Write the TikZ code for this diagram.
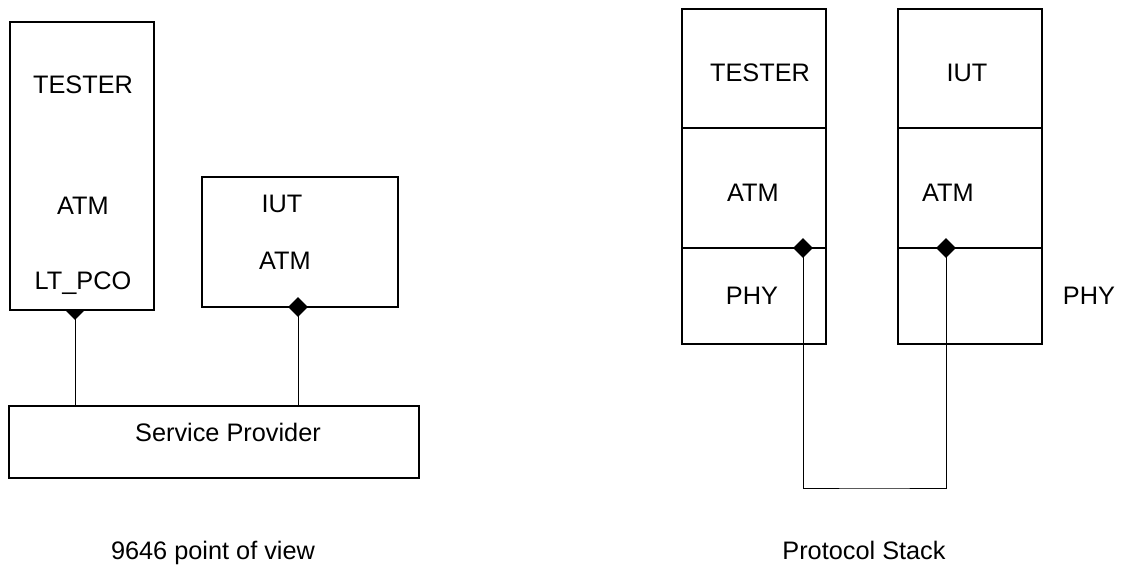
\documentclass[tikz,border=0pt]{standalone}
\usepackage{fontspec}
\setmainfont{Liberation Sans}
\usetikzlibrary{shapes.geometric}

\begin{document}
\begin{tikzpicture}
    % Styles
    \tikzstyle{block} = [rectangle, draw, line width=1.4pt, fill=white, inner sep=0pt]
    \tikzstyle{layerbox} = [rectangle, draw, line width=1.4pt, fill=white, minimum width=3.6cm, inner sep=0pt]
    \tikzstyle{txt} = [anchor=base, font=\fontsize{18}{22}\selectfont, inner sep=0pt]
    \tikzstyle{port} = [diamond, fill=black, minimum width=0.5cm, minimum height=0.5cm, inner sep=0pt]
    \tikzstyle{wire} = [line width=0.7pt]

    \useasboundingbox (0,0) rectangle (28.05,14.175);

    % Left view - explicit coordinates
    \node[port] (tport) at (1.875, 6.425) {};
    \node[block, minimum width=3.6cm, minimum height=7.2cm] (tester) at (2.05, 10.025) {};
    \node[txt] (tname) at (2.075, 11.825) {TESTER};
    \node[txt] (tatm) at (2.075, 8.8) {ATM};
    \node[txt] (tpco) at (2.075, 6.925) {LT\_PCO};

    \node[block, minimum width=4.9cm, minimum height=3.25cm] (iut) at (7.5, 8.125) {};
    \node[txt] (iname) at (7.05, 8.85) {IUT};
    \node[txt] (iatm) at (7.125, 7.425) {ATM};
    \node[port] (iport) at (7.45, 6.5) {};

    \node[block, minimum width=10.25cm, minimum height=1.8cm] (sp) at (5.35, 3.125) {};
    \node[txt] (spname) at (5.7, 3.125) {Service Provider};
    \node[txt] (view) at (5.325, 0.175) {9646 point of view};

    % Wires to the service provider
    \draw[wire] (tport.center) -- (tport.center |- sp.north);
    \draw[wire] (iport.center) -- (iport.center |- sp.north);

    % Protocol stacks
    \node[layerbox, minimum height=2.975cm] (ltop) at (18.85, 12.4625) {};
    \node[layerbox, minimum height=3cm] (lmid) at (18.85, 9.475) {};
    \node[layerbox, minimum height=2.4cm] (lphy) at (18.85, 6.775) {};
    \node[layerbox, minimum height=2.975cm] (rtop) at (24.25, 12.4625) {};
    \node[layerbox, minimum height=3cm] (rmid) at (24.25, 9.475) {};
    \node[layerbox, minimum height=2.4cm] (rphy) at (24.25, 6.775) {};

    \node[txt] (ltname) at (19.0, 12.125) {TESTER};
    \node[txt] (latm) at (18.825, 9.125) {ATM};
    \node[txt] (lphyname) at (18.8, 6.55) {PHY};
    \node[txt] (rtname) at (24.175, 12.125) {IUT};
    \node[txt] (ratm) at (23.7, 9.125) {ATM};
    \node[txt] (rphyname) at (27.225, 6.55) {PHY};
    \node[txt] (stack) at (21.6, 0.175) {Protocol Stack};

    % Loop between the stacks
    \coordinate (loop) at (21.85, 1.975);
    \node[port] (lport) at (20.075, 7.975) {};
    \node[port] (rport) at (23.65, 7.975) {};
    \draw[wire] (lport.center) |- (loop) -| (rport.center);
\end{tikzpicture}
\end{document}
